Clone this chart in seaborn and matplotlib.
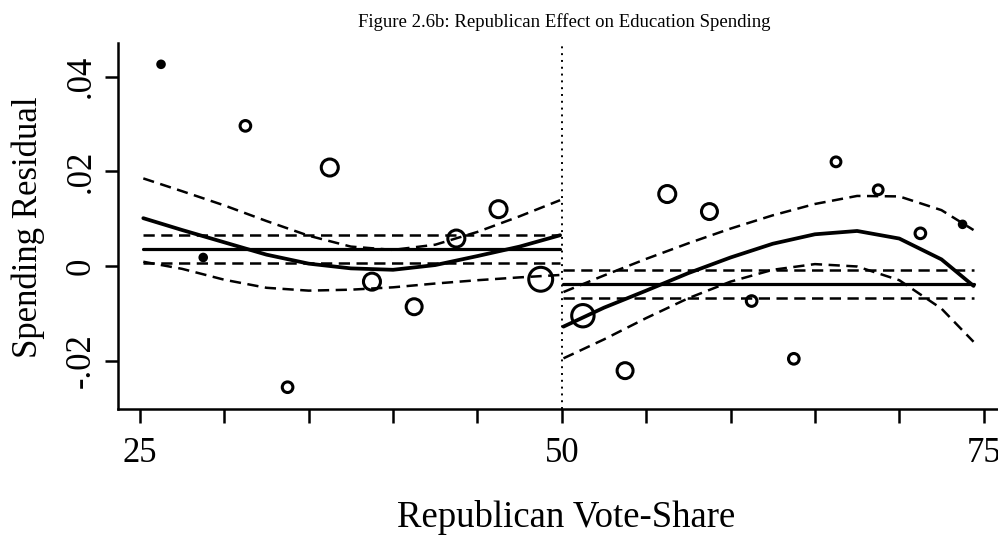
import matplotlib
matplotlib.use("Agg")
import matplotlib.pyplot as plt
import pandas as pd
import seaborn as sns

# Binned spending residuals by Republican vote-share
bin_mid = [26.25, 28.75, 31.25, 33.75, 36.25, 38.75, 41.25, 43.75, 46.25, 48.75,
           51.25, 53.75, 56.25, 58.75, 61.25, 63.75, 66.25, 68.75, 71.25, 73.75]
bin_resid = [0.0426, 0.0018, 0.0296, -0.0256, 0.0208, -0.0033, -0.0086, 0.0058, 0.0120, -0.0028,
             -0.0105, -0.0221, 0.0152, 0.0115, -0.0074, -0.0196, 0.0220, 0.0161, 0.0069, 0.0088]
bin_count = [2, 2, 6, 6, 16, 16, 14, 16, 16, 32,
             28, 14, 16, 14, 6, 6, 5, 5, 6, 2]

cutoff = 50

# Polynomial fit with 95% band, Democratic side (vote-share below 50)
left_x = [25.2, 27.5, 30.0, 32.5, 35.0, 37.5, 40.0, 42.5, 45.0, 47.5, 49.9]
left_fit = [0.0101, 0.0076, 0.0050, 0.0024, 0.0005, -0.0005, -0.0008, 0.0002, 0.0021, 0.0041, 0.0065]
left_hi = [0.0185, 0.0158, 0.0128, 0.0095, 0.0064, 0.0041, 0.0034, 0.0045, 0.0072, 0.0105, 0.0139]
left_lo = [0.0009, -0.0006, -0.0029, -0.0046, -0.0052, -0.0050, -0.0045, -0.0037, -0.0030, -0.0024, -0.0019]

# Polynomial fit with 95% band, Republican side (vote-share above 50)
right_x = [50.1, 52.5, 55.0, 57.5, 60.0, 62.5, 65.0, 67.5, 70.0, 72.5, 74.4]
right_fit = [-0.0128, -0.0088, -0.0052, -0.0015, 0.0018, 0.0047, 0.0067, 0.0074, 0.0058, 0.0014, -0.0042]
right_hi = [-0.0055, -0.0020, 0.0015, 0.0048, 0.0079, 0.0107, 0.0131, 0.0148, 0.0147, 0.0118, 0.0076]
right_lo = [-0.0195, -0.0155, -0.0110, -0.0068, -0.0033, -0.0008, 0.0004, -0.0001, -0.0030, -0.0090, -0.0160]

# Side means with 95% interval
side_range = [(25.2, 49.9), (50.1, 74.4)]
side_mean = [0.0036, -0.0038]
side_hi = [0.0066, -0.0008]
side_lo = [0.0007, -0.0068]

x_ticks = [25, 30, 35, 40, 45, 50, 55, 60, 65, 70, 75]
x_tick_labels = ["25", "", "", "", "", "50", "", "", "", "", "75"]
y_ticks = [-0.02, 0.0, 0.02, 0.04]
y_tick_labels = ["-.02", "0", ".02", ".04"]

sns.set_theme(style="ticks")
plt.rcParams["font.family"] = ["Liberation Serif", "DejaVu Serif"]
plt.rcParams["text.color"] = "black"
plt.rcParams["axes.labelcolor"] = "black"

fig = plt.figure(figsize=(9.98, 5.38), dpi=100)
ax = fig.add_axes([118 / 998, 1 - 409 / 538, 1 - 118 / 998, (409 - 43) / 538])

points = pd.DataFrame({"share": bin_mid, "resid": bin_resid, "n": bin_count})
sns.scatterplot(data=points, x="share", y="resid", size="n", sizes=(22, 296),
                size_norm=(2, 32), legend=False, marker="o", color="black", ax=ax, zorder=3)
# Hollow circles; the smallest bins collapse into solid dots
coll = ax.collections[-1]
coll.set_facecolor(["black" if n <= 2 else "none" for n in bin_count])
coll.set_edgecolor("black")
coll.set_linewidth(2.2)

dash = (0, (4.5, 2.6))

for xs, fit, hi, lo in [(left_x, left_fit, left_hi, left_lo),
                        (right_x, right_fit, right_hi, right_lo)]:
    sns.lineplot(x=xs, y=fit, estimator=None, sort=False, color="black", lw=2.7, ax=ax)
    sns.lineplot(x=xs, y=hi, estimator=None, sort=False, color="black", lw=1.8,
                 linestyle=dash, ax=ax)
    sns.lineplot(x=xs, y=lo, estimator=None, sort=False, color="black", lw=1.8,
                 linestyle=dash, ax=ax)

for (x0, x1), m, hi, lo in zip(side_range, side_mean, side_hi, side_lo):
    sns.lineplot(x=[x0, x1], y=[m, m], estimator=None, sort=False, color="black", lw=2.3, ax=ax)
    sns.lineplot(x=[x0, x1], y=[hi, hi], estimator=None, sort=False, color="black", lw=1.8,
                 linestyle=dash, ax=ax)
    sns.lineplot(x=[x0, x1], y=[lo, lo], estimator=None, sort=False, color="black", lw=1.8,
                 linestyle=dash, ax=ax)

ax.axvline(cutoff, color="black", lw=1.4, linestyle=(0, (1, 2.5)), zorder=1)

ax.set_xlim(23.7, 75.85)
ax.set_ylim(-0.0302, 0.0471)
ax.set_xticks(x_ticks)
ax.set_xticklabels(x_tick_labels)
ax.set_yticks(y_ticks)
ax.set_yticklabels(y_tick_labels, rotation=90, va="center")
ax.set_xlabel("")
ax.set_ylabel("")

sns.despine(ax=ax)
for side in ["left", "bottom"]:
    ax.spines[side].set_linewidth(1.8)
    ax.spines[side].set_color("black")
ax.tick_params(axis="x", direction="out", length=10, width=1.8, labelsize=25, pad=10.5,
               colors="black")
ax.tick_params(axis="y", direction="out", length=9.5, width=1.8, labelsize=25, pad=5,
               colors="black")

fig.text(0.565, 1 - 27 / 538, "Figure 2.6b: Republican Effect on Education Spending",
         ha="center", va="baseline", fontsize=13.5, color="black")
fig.text(0.567, 1 - 527 / 538, "Republican Vote-Share", ha="center", va="baseline",
         fontsize=26.5, color="black")
fig.text(0.028, 1 - 227 / 538, "Spending Residual", ha="center", va="center",
         rotation=90, fontsize=25, color="black")

fig.savefig("out.png", dpi=100)
